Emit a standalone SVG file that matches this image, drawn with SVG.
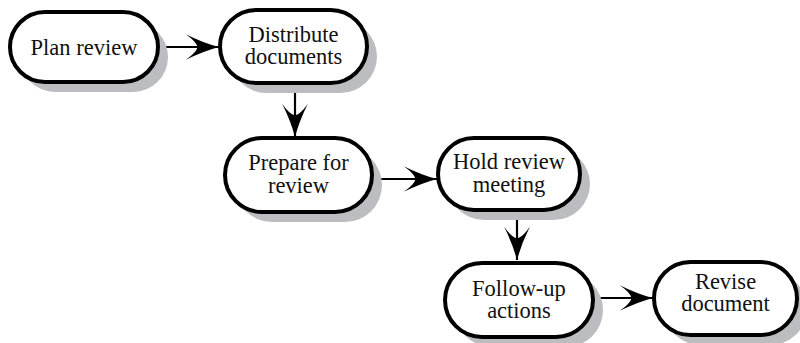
<svg xmlns="http://www.w3.org/2000/svg" width="800" height="343" viewBox="0 0 800 343">
<style>
.shadow{fill:#bcbdc1;stroke:none}
.box{fill:#fff;stroke:#000;stroke-width:4}
.lbl{font-family:'Liberation Serif','Times New Roman',Times,serif;font-size:22.5px;fill:#111;text-anchor:middle}
.conn{stroke:#000;stroke-width:2.2;fill:none}
</style>
<defs>
<marker id="arr" markerUnits="userSpaceOnUse" markerWidth="40" markerHeight="30" viewBox="-32 -14 34 28" refX="0" refY="0" orient="auto">
<path d="M0,0 Q-15,-4 -31,-12 Q-21,-5 -20,0 Q-21,5 -31,12 Q-15,4 0,0 Z" fill="#000"/>
</marker>
</defs>
<g id="connectors">
<line class="conn" x1="158" y1="47" x2="219" y2="47" marker-end="url(#arr)"/>
<line class="conn" x1="295" y1="83" x2="295" y2="137" marker-end="url(#arr)"/>
<line class="conn" x1="372" y1="179" x2="437" y2="179" marker-end="url(#arr)"/>
<line class="conn" x1="517" y1="210" x2="517" y2="260" marker-end="url(#arr)"/>
<line class="conn" x1="593" y1="298" x2="653" y2="298" marker-end="url(#arr)"/>
</g>
<g id="plan-review">
<rect class="shadow" x="20" y="22" width="148" height="70" rx="35"/>
<rect class="box" x="10" y="12" width="148" height="70" rx="35"/>
<text class="lbl" x="84" y="54.5">Plan review</text>
</g>
<g id="distribute-documents">
<rect class="shadow" x="230" y="20" width="147" height="73" rx="36.5"/>
<rect class="box" x="220" y="10" width="147" height="73" rx="36.5"/>
<text class="lbl" x="293.5" y="42">Distribute<tspan x="293.5" dy="22">documents</tspan></text>
</g>
<g id="prepare-for-review">
<rect class="shadow" x="235" y="148" width="147" height="74" rx="37"/>
<rect class="box" x="225" y="138" width="147" height="74" rx="37"/>
<text class="lbl" x="298.5" y="170">Prepare for<tspan x="298.5" dy="22.5">review</tspan></text>
</g>
<g id="hold-review-meeting">
<rect class="shadow" x="448" y="148" width="142" height="72" rx="36"/>
<rect class="box" x="438" y="138" width="142" height="72" rx="36"/>
<text class="lbl" x="509" y="169">Hold review<tspan x="509" dy="22.5">meeting</tspan></text>
</g>
<g id="follow-up-actions">
<rect class="shadow" x="455" y="273" width="148" height="74" rx="37"/>
<rect class="box" x="445" y="263" width="148" height="74" rx="37"/>
<text class="lbl" x="519" y="296">Follow-up<tspan x="519" dy="21.5">actions</tspan></text>
</g>
<g id="revise-document">
<rect class="shadow" x="664" y="272" width="143" height="73" rx="36.5"/>
<rect class="box" x="654" y="262" width="143" height="73" rx="36.5"/>
<text class="lbl" x="725.5" y="289">Revise<tspan x="725.5" dy="21.5">document</tspan></text>
</g>
</svg>
